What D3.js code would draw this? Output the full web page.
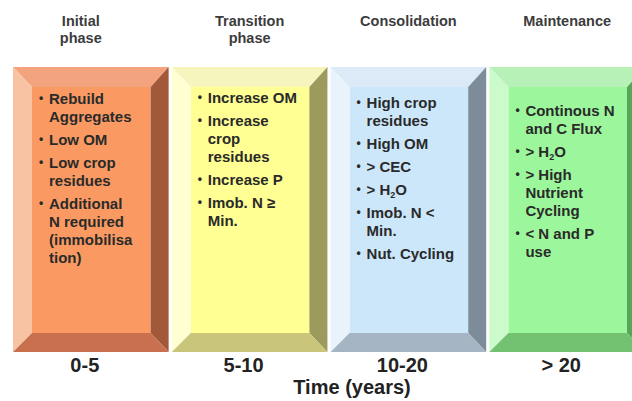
<!DOCTYPE html>
<html>
<head>
<meta charset="utf-8">
<script src="https://cdn.jsdelivr.net/npm/d3@7"></script>
<style>
  html, body { margin: 0; padding: 0; background: #fff; }
  svg { display: block; }
  text { font-family: "Liberation Sans", Arial, sans-serif; }
</style>
</head>
<body>
<svg id="chart" width="632" height="401"></svg>
<script>
// ---- data ----
const phases = ["Initial", "Transition", "Consolidation", "Maintenance"];
const headers = [["Initial", "phase"], ["Transition", "phase"], ["Consolidation"], ["Maintenance"]];
const bullets = [
  [["Rebuild", "Aggregates"], ["Low OM"], ["Low crop", "residues"], ["Additional", "N required", "(immobilisa", "tion)"]],
  [["Increase OM"], ["Increase", "crop", "residues"], ["Increase P"], ["Imob. N \u2265", "Min."]],
  [["High crop", "residues"], ["High OM"], ["> CEC"], ["> H_2O"], ["Imob. N <", "Min."], ["Nut. Cycling"]],
  [["Continous N", "and C Flux"], ["> H_2O"], ["> High", "Nutrient", "Cycling"], ["< N and P", "use"]]
];
const timeLabels = ["0-5", "5-10", "10-20", "> 20"];
const axisTitle = "Time (years)";

// ---- styles ----
const palette = [
  { face: "#FA9A62", top: "#F3A47E", left: "#F8C3A2", right: "#A2593A", bottom: "#C9714F" },
  { face: "#FFFF93", top: "#F6F5BE", left: "#FFFFD2", right: "#9C9B5C", bottom: "#C9C67C" },
  { face: "#CDE7FA", top: "#DBEAF6", left: "#E8F3FC", right: "#7C8D99", bottom: "#A5B5C3" },
  { face: "#9CF69C", top: "#B8F1B8", left: "#CBFACB", right: "#57A657", bottom: "#72C272" }
];
const textTop = [37, 36, 41, 49];
const headerDx = [-10, 0, 0, 0];

const svg = d3.select("#chart");
const x = d3.scaleBand().domain(phases).range([13, 645]).paddingInner(0.02);
const y0 = 67, y1 = 352;
const bl = 19, br = 18, bt = 20, bb = 19;

const g = svg.selectAll("g.panel").data(phases).join("g").attr("class", "panel");

g.each(function(p, i) {
  const sel = d3.select(this);
  const a = x(p), b = x(p) + x.bandwidth();
  const c = palette[i];
  const poly = pts => pts.map(q => q.join(",")).join(" ");
  sel.append("rect").attr("x", a + bl).attr("y", y0 + bt)
    .attr("width", b - a - bl - br).attr("height", y1 - y0 - bt - bb).attr("fill", c.face);
  sel.append("polygon").attr("points", poly([[a, y0], [b, y0], [b - br, y0 + bt], [a + bl, y0 + bt]])).attr("fill", c.top);
  sel.append("polygon").attr("points", poly([[a, y0], [a + bl, y0 + bt], [a + bl, y1 - bb], [a, y1]])).attr("fill", c.left);
  sel.append("polygon").attr("points", poly([[b, y0], [b, y1], [b - br, y1 - bb], [b - br, y0 + bt]])).attr("fill", c.right);
  sel.append("polygon").attr("points", poly([[a, y1], [a + bl, y1 - bb], [b - br, y1 - bb], [b, y1]])).attr("fill", c.bottom);

  // bullets
  let yy = y0 + textTop[i];
  bullets[i].forEach((item, k) => {
    if (k > 0) yy += 23;
    sel.append("text").attr("x", a + 26).attr("y", yy - 2)
      .attr("font-size", 12).attr("font-weight", "bold").attr("fill", "#2a2a2a").text("\u2022");
    item.forEach((line, j) => {
      if (j > 0) yy += 18;
      const t = sel.append("text").attr("x", a + 36).attr("y", yy)
        .attr("font-size", 15).attr("font-weight", "bold").attr("fill", "#2a2a2a");
      const parts = line.split("_");
      if (parts.length === 1) {
        t.text(line);
      } else {
        t.append("tspan").text(parts[0]);
        t.append("tspan").attr("font-size", 9).attr("dy", 3).text(parts[1][0]);
        t.append("tspan").attr("dy", -3).text(parts[1].slice(1));
      }
    });
  });

  // header
  const cx = a + x.bandwidth() / 2 + headerDx[i];
  headers[i].forEach((h, j) => {
    sel.append("text").attr("x", cx).attr("y", 26 + j * 17).attr("text-anchor", "middle")
      .attr("font-size", 14.5).attr("font-weight", "bold").attr("fill", "#3c3c3c").text(h);
  });

  // time label
  sel.append("text").attr("x", a + x.bandwidth() / 2 - 6).attr("y", 372).attr("text-anchor", "middle")
    .attr("font-size", 20).attr("font-weight", "bold").attr("fill", "#222").text(timeLabels[i]);
});

svg.append("text").attr("x", 352).attr("y", 394).attr("text-anchor", "middle")
  .attr("font-size", 20).attr("font-weight", "bold").attr("fill", "#222").text(axisTitle);
</script>
</body>
</html>
